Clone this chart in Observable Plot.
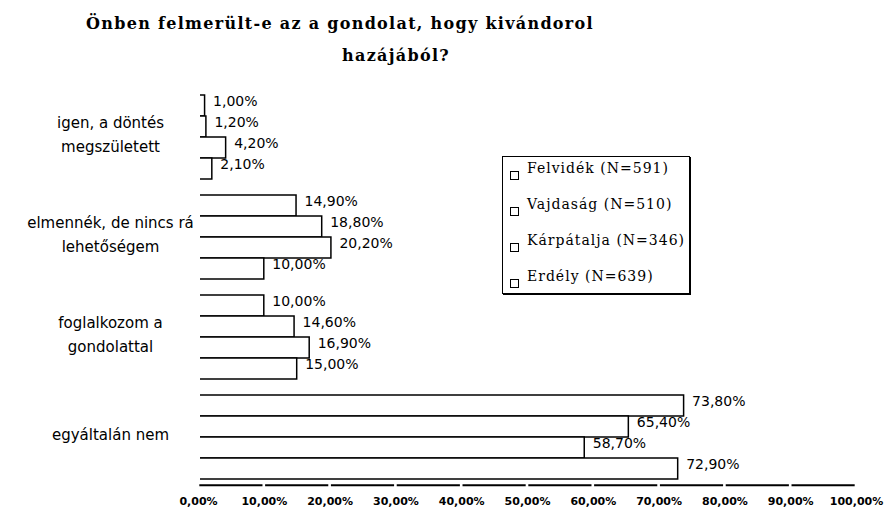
<!DOCTYPE html>
<html>
<head>
<meta charset="utf-8">
<script src="https://cdn.jsdelivr.net/npm/d3@7"></script>
<script src="https://cdn.jsdelivr.net/npm/@observablehq/plot@0.6"></script>
<style>
  html, body { margin: 0; padding: 0; background: #fff; }
  #wrap { position: relative; width: 890px; height: 514px; background: #fff; overflow: hidden; }
  .title { position: absolute; transform: translateX(-50%); white-space: nowrap;
           font-family: "DejaVu Serif", serif; font-weight: bold; font-size: 16px; line-height: 16px;
           letter-spacing: 1.3px; color: #000; }
  #chart { position: absolute; left: 0; top: 75px; }
  #legend { position: absolute; left: 502px; top: 156px; width: 186px; height: 136px;
            border: 1px solid #000; box-shadow: 1px 1px 0 #000; background: #fff; }
  .lrow { position: absolute; left: 0; height: 18px; line-height: 18px; white-space: nowrap;
          font-family: "DejaVu Serif", serif; font-size: 14px; letter-spacing: 1px; color: #000; }
  .lbox { position: absolute; left: 7px; top: 12px; width: 7px; height: 7px; border: 1px solid #000; background: #fff; }
  .ltxt { position: absolute; left: 24px; top: 0; }
  g[aria-label="catlabels"] text { letter-spacing: 0.7px; }
</style>
</head>
<body>
<div id="wrap">
  <div class="title" id="t1" style="left:340px; top:16px;"></div>
  <div class="title" id="t2" style="left:396px; top:48px;"></div>
  <div id="chart"></div>
  <div id="legend"></div>
</div>
<script>
// ---- data ----
const titleLines = ["Önben felmerült-e az a gondolat, hogy kivándorol", "hazájából?"];
const categories = [
  "igen, a döntés\nmegszületett",
  "elmennék, de nincs rá\nlehetőségem",
  "foglalkozom a\ngondolattal",
  "egyáltalán nem"
];
const series = ["Felvidék (N=591)", "Vajdaság (N=510)", "Kárpátalja (N=346)", "Erdély (N=639)"];
const felvidek   = [1.00, 14.90, 10.00, 73.80];
const vajdasag   = [1.20, 18.80, 14.60, 65.40];
const karpatalja = [4.20, 20.20, 16.90, 58.70];
const erdely     = [2.10, 10.00, 15.00, 72.90];
const xTicks = [0, 10, 20, 30, 40, 50, 60, 70, 80, 90, 100];

// ---- build table ----
const seriesValues = [felvidek, vajdasag, karpatalja, erdely];
const data = [];
categories.forEach((c, i) => series.forEach((s, j) => data.push({category: c, series: s, value: seriesValues[j][i]})));
const fmt = v => v.toFixed(2).replace(".", ",") + "%";
const axisSegments = xTicks.slice(0, -1).map((t, i) => [t, xTicks[i + 1]]);

document.getElementById("t1").textContent = titleLines[0];
document.getElementById("t2").textContent = titleLines[1];

const chart = Plot.plot({
  width: 890,
  height: 439,
  marginLeft: 198,
  marginRight: 34,
  marginTop: 17,
  marginBottom: 32,
  style: {fontFamily: "DejaVu Sans", fontSize: "14px", color: "#000", background: "#fff"},
  x: {domain: [0, 100]},
  y: {domain: series, padding: 0, axis: null},
  fy: {domain: categories, paddingInner: 0.126, paddingOuter: 0, axis: null},
  marks: [
    Plot.barX(data, {x: "value", y: "series", fy: "category", fill: "white", stroke: "black", strokeWidth: 1.5}),
    Plot.ruleX([0], {stroke: "white", strokeWidth: 3}),
    Plot.text(data, {x: "value", y: "series", fy: "category", text: d => fmt(d.value),
      textAnchor: "start", dx: 8, dy: -4, fontSize: 14, fill: "black"}),
    Plot.text(categories, {fy: d => d, text: d => d, frameAnchor: "left", dx: -88, dy: -5,
      textAnchor: "middle", lineHeight: 1.6, fontSize: 15, fill: "black", ariaLabel: "catlabels"}),
    Plot.ruleY(axisSegments, {x1: d => d[0] + 0.2, x2: d => d[1] - 0.2,
      y: () => series[series.length - 1], fy: () => categories[categories.length - 1],
      dy: 16.3, stroke: "black", strokeWidth: 2}),
    Plot.axisX({ticks: xTicks, tickFormat: fmt, tickSize: 0, tickPadding: 17, label: null,
      fontSize: 11, fontWeight: "bold", fill: "black"})
  ]
});
document.getElementById("chart").appendChild(chart);

// ---- legend ----
const legend = document.getElementById("legend");
series.forEach((s, i) => {
  const row = document.createElement("div");
  row.className = "lrow";
  row.style.top = (2 + i * 36) + "px";
  row.style.width = "180px";
  const box = document.createElement("div");
  box.className = "lbox";
  const txt = document.createElement("div");
  txt.className = "ltxt";
  txt.textContent = s;
  row.appendChild(box);
  row.appendChild(txt);
  legend.appendChild(row);
});
</script>
</body>
</html>
